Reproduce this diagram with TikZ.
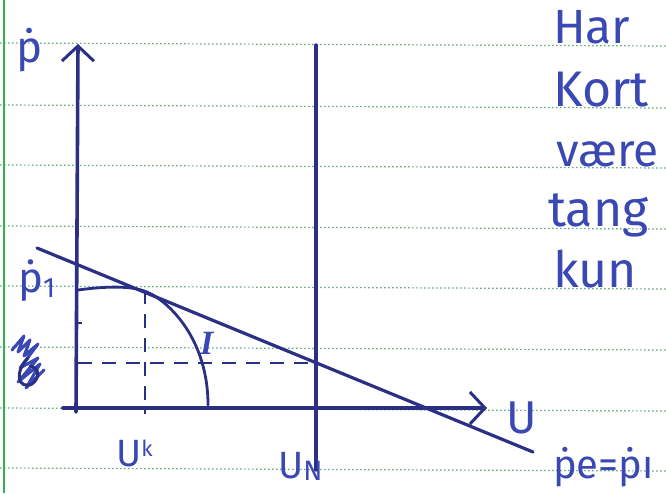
\documentclass[tikz,border=0pt]{standalone}
\usepackage{fontspec}
\setmainfont{Fira Sans}
\newfontfamily\serifhand{Liberation Serif}
\usetikzlibrary{arrows.meta}
\definecolor{ink}{HTML}{2B3085}
\definecolor{pen}{HTML}{3A48B4}
\definecolor{marginc}{HTML}{2DB34A}
\definecolor{rulec}{HTML}{5FA878}
\tikzset{
  axisline/.style={ink, line width=3.6pt, line cap=round},
  thinline/.style={ink, line width=2.8pt, line cap=round},
  dashline/.style={ink, line width=2.4pt, dash pattern=on 14pt off 10pt},
  barb/.style={-{Straight Barb[length=15pt,width=32pt,line width=3pt]}},
  handtext/.style={pen, inner sep=0pt, anchor=base west},
  rulingline/.style={rulec, line width=1.2pt, dash pattern=on 1.5pt off 2.5pt}
}
\begin{document}
\begin{tikzpicture}[x=1pt,y=-1pt]
\useasboundingbox (0,0) rectangle (666,493);
\fill[white] (0,0) rectangle (666,493);
\clip (0,0) rectangle (666,493);
% ruled paper
\foreach \y in {43,105,165,226,286,347,408,468}
  \draw[rulingline] (0,\y) -- (666,\y+3);
\draw[marginc, line width=2pt] (3.5,0) -- (3.5,493);

% key points
\coordinate (O) at (76,412);
\coordinate (ytop) at (78,44);
\coordinate (xleft) at (63,408);
\coordinate (xtip) at (487,408);
\coordinate (untop) at (316,45);
\coordinate (unbot) at (316,470);
\coordinate (tA) at (37,248);
\coordinate (tB) at (533,452);
\coordinate (dh1) at (78,363);
\coordinate (dh2) at (316,363);
\coordinate (dv1) at (145,290);
\coordinate (dv2) at (145,414);
\coordinate (c0) at (78,290);
\coordinate (c1) at (147,292);
\coordinate (c2) at (208,405);

% axes
\draw[axisline, barb] (O) -- (ytop);
\draw[axisline, barb] (xleft) -- (xtip);
\draw[axisline, line width=3.2pt] (untop) -- (unbot);
% tangent line
\draw[thinline, line width=3.2pt] (tA) -- (tB);
% dashed guides
\draw[dashline] (dh1) -- (dh2);
\draw[dashline] (dv1) -- (dv2);
\draw[ink, line width=1.8pt] (77,323) -- (82,323);
% curve I
\draw[thinline] (c0) .. controls (115,285) and (135,287) .. (c1)
  .. controls (170,302) and (208,340) .. (c2);

% scribble
\draw[pen, line width=3pt, line cap=round, line join=round]
  (12,350) -- (24,336) -- (18,352) -- (30,340) -- (24,356) -- (38,344)
  -- (20,368) -- (38,358) -- (18,382) -- (40,364) -- (26,388) -- (44,370);
\draw[ink, line width=3pt, line cap=round] (28,358) .. controls (14,372) and (18,390) .. (32,384)
  .. controls (40,378) and (40,368) .. (30,366);

% labels
\node[handtext, font=\fontsize{44}{44}\selectfont] (pdot) at (16,62) {ṗ};
\node[handtext, font=\fontsize{42}{42}\selectfont] (p1) at (18,292) {ṗ\raisebox{-5pt}{\fontsize{28}{28}\selectfont 1}};
\node[handtext, font=\serifhand\bfseries\itshape\fontsize{34}{34}\selectfont] (lI) at (200,354) {I};
\node[handtext, font=\fontsize{46}{46}\selectfont] (lU) at (506,433) {U};
\node[handtext, font=\fontsize{38}{38}\selectfont] (lUk) at (116,466) {U\raisebox{10pt}{\fontsize{22}{22}\selectfont k}};
\node[handtext, font=\fontsize{38}{38}\selectfont] (lUN) at (278,478) {U\raisebox{-2pt}{\fontsize{28}{28}\selectfont N}};
\node[handtext, font=\fontsize{40}{40}\selectfont] (lpe) at (553,478) {ṗe=ṗı};

% right-hand words
\node[handtext, font=\fontsize{48}{48}\selectfont] (w1) at (553,43) {Har};
\node[handtext, font=\fontsize{50}{50}\selectfont] (w2) at (553,106) {Kort};
\node[handtext, font=\fontsize{46}{46}\selectfont] (w3) at (556,166) {være};
\node[handtext, font=\fontsize{50}{50}\selectfont] (w4) at (548,226) {tang};
\node[handtext, font=\fontsize{50}{50}\selectfont] (w5) at (553,287) {kun};
\end{tikzpicture}
\end{document}
